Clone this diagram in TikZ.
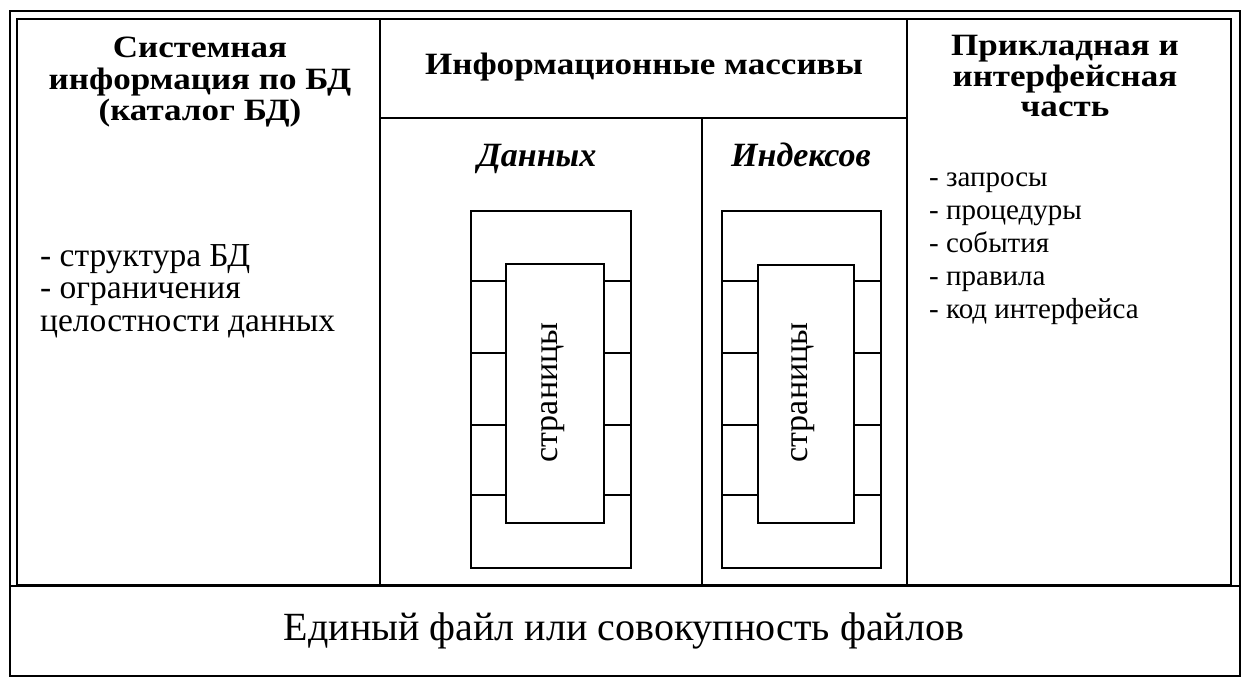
\documentclass[tikz,border=0pt]{standalone}
\usepackage{fontspec}
\setmainfont{Liberation Serif}
\newcommand{\wide}[1]{\scalebox{1.13}[1]{#1}}
\begin{document}
\begin{tikzpicture}[x=1pt,y=-1pt,
  frame/.style={line width=2pt},
  thinl/.style={line width=1.6pt},
  thickl/.style={line width=2.8pt},
  title/.style={font=\fontsize{31}{32}\selectfont\bfseries, inner sep=0pt, anchor=base},
  sub/.style={font=\fontsize{34}{34}\selectfont\bfseries\itshape, inner sep=0pt, anchor=base},
  lista/.style={font=\fontsize{33.5}{33}\selectfont, inner sep=0pt, anchor=base west},
  listb/.style={font=\fontsize{29}{33}\selectfont, inner sep=0pt, anchor=base west},
  pagetxt/.style={font=\fontsize{34}{34}\selectfont, rotate=90, inner sep=0pt},
  bottomtxt/.style={font=\fontsize{40}{40}\selectfont, inner sep=0pt, anchor=base}]
\useasboundingbox[fill=white] (0,0) rectangle (1260,700);
% outer frame
\draw[frame] (10,11) rectangle (1240,676);
\draw[frame] (17,19) rectangle (1231,585);
\draw[frame] (10,586) -- (1240,586);
% column dividers
\draw[frame] (380,19) -- (380,585);
\draw[frame] (907,19) -- (907,585);
\draw[frame] (380,118) -- (907,118);
\draw[thinl] (702,118) -- (702,585);
% titles
\node[title] (sys1) at (200,58) {\wide{Системная}};
\node[title] (sys2) at (200,90) {\wide{информация по БД}};
\node[title] (sys3) at (200,121) {\wide{(каталог БД)}};
\node[title] (inf) at (644,75) {\wide{Информационные массивы}};
\node[title] (app1) at (1065,56) {\wide{Прикладная и}};
\node[title] (app2) at (1065,87) {\wide{интерфейсная}};
\node[title] (app3) at (1065,117) {\wide{часть}};
\node[sub] (dat) at (537,167) {Данных};
\node[sub] (idx) at (801,167) {Индексов};
% lists
\node[lista] (l1a) at (40,267) {- структура БД};
\node[lista] (l1b) at (40,299) {- ограничения};
\node[lista] (l1c) at (40,331) {целостности данных};
\node[listb] (l2a) at (929,187) {- запросы};
\node[listb] (l2b) at (929,220) {- процедуры};
\node[listb] (l2c) at (929,253) {- события};
\node[listb] (l2d) at (929,286) {- правила};
\node[listb] (l2e) at (929,319) {- код интерфейса};
% data pages
\draw[frame] (471,211) rectangle (631,568);
\node[draw, frame, minimum width=98pt, minimum height=259pt, inner sep=0pt] (p1) at (555,393.5) {};
\node[pagetxt] (t1) at (553,392.5) {страницы};
\draw[thinl] (471,281) -- (p1.west |- 0,281);
\draw[thickl] (471,353) -- (p1.west |- 0,353);
\draw[thinl] (471,425) -- (p1.west |- 0,425);
\draw[thickl] (471,495) -- (p1.west |- 0,495);
\draw[thinl] (p1.east |- 0,281) -- (631,281);
\draw[thickl] (p1.east |- 0,353) -- (631,353);
\draw[thinl] (p1.east |- 0,425) -- (631,425);
\draw[thickl] (p1.east |- 0,495) -- (631,495);
% index pages
\draw[frame] (722,211) rectangle (881,568);
\node[draw, frame, minimum width=96pt, minimum height=258pt, inner sep=0pt] (p2) at (806,394) {};
\node[pagetxt] (t2) at (803,392.5) {страницы};
\draw[thinl] (722,281) -- (p2.west |- 0,281);
\draw[thickl] (722,353) -- (p2.west |- 0,353);
\draw[thinl] (722,425) -- (p2.west |- 0,425);
\draw[thickl] (722,495) -- (p2.west |- 0,495);
\draw[thinl] (p2.east |- 0,281) -- (881,281);
\draw[thickl] (p2.east |- 0,353) -- (881,353);
\draw[thinl] (p2.east |- 0,425) -- (881,425);
\draw[thickl] (p2.east |- 0,495) -- (881,495);
% bottom
\node[bottomtxt] (bot) at (624,640) {Единый файл или совокупность файлов};
\end{tikzpicture}
\end{document}
